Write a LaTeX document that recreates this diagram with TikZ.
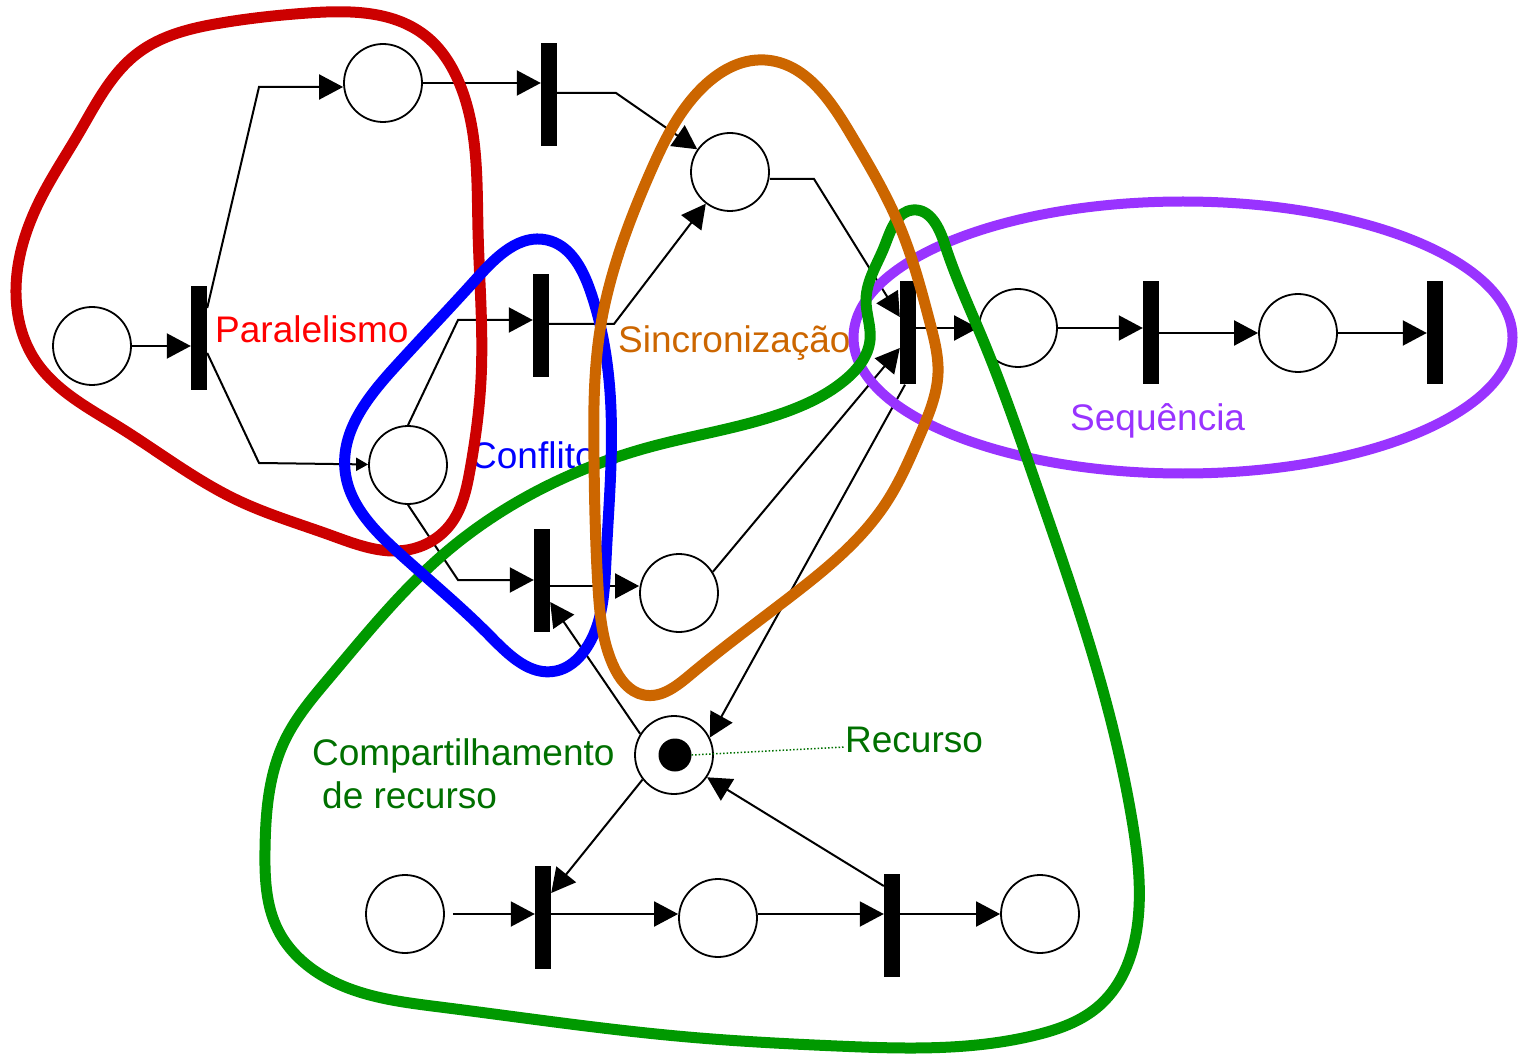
\documentclass[tikz,border=0pt]{standalone}
\usepackage{fontspec}
\setmainfont{Liberation Sans}
\usetikzlibrary{arrows.meta,calc,hobby}
\definecolor{blobred}{HTML}{CC0000}
\definecolor{txtred}{HTML}{FF0000}
\definecolor{bluec}{HTML}{0000FF}
\definecolor{orangec}{HTML}{CC6600}
\definecolor{purplec}{HTML}{9933FF}
\definecolor{blobgreen}{HTML}{009900}
\definecolor{greentext}{HTML}{007000}
\begin{document}
\begin{tikzpicture}[x=1pt,y=-1pt,
 place/.style={circle,draw,line width=1.8pt,minimum size=78pt,inner sep=0pt},
 trans/.style={rectangle,fill=black,minimum width=16pt,minimum height=103pt,inner sep=0pt},
 arc/.style={line width=2pt,-{Triangle[length=24pt,width=25pt]}},
 smallarc/.style={line width=2pt,-{Triangle[length=12pt,width=13pt]}},
 blob/.style={line width=11pt,line join=round},
 lbl/.style={font=\fontsize{37}{44}\selectfont,inner sep=0pt,anchor=base west}]
\useasboundingbox (0,0) rectangle (1523,1056);

% places and transitions
\node[place] (p1) at (92,346) {};
\node[trans] (t1) at (199,338) {};
\node[place] (p2) at (383,83) {};
\node[trans] (t2) at (549,95) {};
\node[place] (p3) at (408,465) {};
\node[trans] (t3) at (541,326) {};
\node[trans] (t4) at (542,580) {};
\node[place] (p4) at (730,172) {};
\node[place] (p5) at (679,593) {};
\node[trans] (t5) at (908,333) {};
\node[place] (p6) at (1018,328) {};
\node[trans] (t6) at (1151,333) {};
\node[place] (p7) at (1298,333) {};
\node[trans] (t7) at (1435,333) {};
\node[place] (r) at (674,755) {};
\node[circle,fill=black,minimum size=33pt,inner sep=0pt] (tok) at (675,755) {};
\node[place] (p8) at (405,914) {};
\node[trans] (t8) at (543,917) {};
\node[place] (p9) at (718,918) {};
\node[trans] (t9) at (892,925) {};
\node[place] (p10) at (1040,914) {};

% connectors
\draw[arc] (p1) -- (p1 -| t1.west);
\draw[arc] ([yshift=30pt]t1.east) -- (259,87) -- (p2.west |- 259,87);
\draw[smallarc] ([yshift=-15pt]t1.east) -- (259,463) -- (p3);
\draw[arc] (p2) -- (p2 -| t2.west);
\draw[arc] ([yshift=2pt]t2.east) -- (616,93) -- (p4);
\draw[arc] (p3.north) -- (458,320) -- (t3.west |- 458,320);
\draw[arc] ([yshift=2pt]t3.east) -- (614,324) -- (p4);
\draw[arc] (p3.south) -- (458,580) -- (t4.west |- 458,580);
\draw[arc] (t4.east |- 0,586) -- (p5.west |- 0,586);
\draw[arc] ([yshift=-7pt]p4.east) -- (814,179) -- ([yshift=16pt]t5.west);
\draw[arc] (p5.32) -- ([yshift=-15pt]t5.west);
\draw[arc] (t5.east |- p6) -- (p6);
\draw[arc] (p6) -- (p6 -| t6.west);
\draw[arc] (t6.east |- p7) -- (p7);
\draw[arc] (p7) -- (p7 -| t7.west);
\draw[arc] ([xshift=-3pt]t5.south) -- (r.26);
\draw[arc] (r.148) -- ([yshift=-22pt]t4.east);
\draw[arc] (r.218) -- ([yshift=24pt]t8.east);
\draw[arc] ([yshift=39pt]t9.west) -- (r.326);
\draw[arc] ([xshift=8pt]p8.east) -- (t8.west |- p8);
\draw[arc] (t8.east |- p8) -- (p9.west |- p8);
\draw[arc] (p9.east |- p8) -- (t9.west |- p8);
\draw[arc] (t9.east |- p10) -- (p10);

% labels
\node[lbl,text=txtred] (lpar) at (215,343) {Paralelismo};
\node[lbl,text=bluec] (lcon) at (470,468) {Conflito};
\node[lbl,text=orangec] (lsin) at (618,353) {Sincronização};
\node[lbl,text=purplec] (lseq) at (1070,430) {Sequência};
\node[lbl,text=greentext] (lcomp) at (312,765) {Compartilhamento};
\node[lbl,text=greentext] (lde) at (322,808) {de recurso};
\node[lbl,text=greentext] (lrec) at (845,752) {Recurso};
\draw[greentext,dotted,line width=1.5pt] (tok.east) -- ([yshift=5pt]lrec.base west);

% blobs
\draw[blob,blobred] plot[closed hobby] coordinates {
 (308,13) (427,37) (458,80) (478,230) (481,380) (470,470) (450,525) (407,550)
 (330,535) (237,500) (119,427) (35,360) (16,293) (40,200) (79,133) (138,53) (221,23)};
\draw[blob,purplec,line width=10pt] (1183,337.5) ellipse [x radius=329.5pt, y radius=136pt];
\draw[blob,blobgreen] plot[closed hobby] coordinates {
 (913,210) (945,245) (983,340) (1037,487) (1100,680) (1132,820) (1138,920)
 (1100,1005) (1036,1035) (837,1046) (688,1037) (440,1007) (330,980) (278,930)
 (265,850) (285,740) (330,677) (445,553) (545,487) (650,447) (783,413) (845,380)
 (870,340) (866,300) (885,245)};
\draw[blob,bluec] plot[closed hobby] coordinates {
 (547,240) (590,290) (611,410) (606,560) (585,650) (556,671) (491,637) (399,553)
 (345,470) (395,367) (478,277)};
\draw[blob,orangec] plot[closed hobby] coordinates {
 (765,60) (850,133) (900,227) (930,323) (938,373) (920,435) (886,503) (790,597)
 (690,675) (644,695) (613,665) (598,587) (594,460) (600,330) (650,173) (700,90)};
\end{tikzpicture}
\end{document}
